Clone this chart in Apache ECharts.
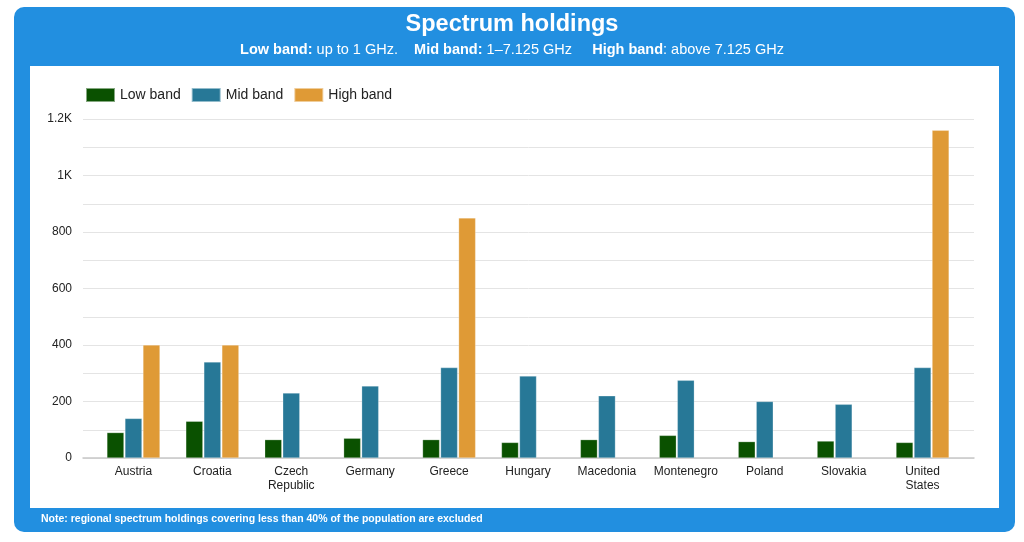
<!DOCTYPE html>
<html>
<head>
<meta charset="utf-8">
<script src="https://cdn.jsdelivr.net/npm/echarts@6/dist/echarts.min.js"></script>
<style>html,body{margin:0;padding:0;background:#fff;}#c{width:1024px;height:542px;}</style>
</head>
<body>
<div id="c"></div>
<script>
const categories = ['Austria','Croatia','Czech\nRepublic','Germany','Greece','Hungary','Macedonia','Montenegro','Poland','Slovakia','United\nStates'];
const lowBand  = [90, 130, 65, 70, 65, 55, 65, 80, 58, 60, 55];
const midBand  = [140, 340, 230, 255, 320, 290, 220, 275, 200, 190, 320];
const highBand = [400, 400, null, null, 850, null, null, null, null, null, 1160];
const yTickLabels = {0:'0',200:'200',400:'400',600:'600',800:'800',1000:'1K',1200:'1.2K'};

const FONT = 'Liberation Sans, Arial, sans-serif';
const BLUE = '#228fe0';
const chart = echarts.init(document.getElementById('c'));
const yCommon = {type:'value', min:0, max:1200, interval:100};
chart.setOption({
  animation:false,
  textStyle:{fontFamily:FONT},
  graphic:[
    {type:'rect', shape:{x:14,y:7,width:1001,height:525,r:10}, style:{fill:BLUE}, z:-10, silent:true},
    {type:'rect', shape:{x:30,y:66,width:969,height:442}, style:{fill:'#fff'}, z:-9, silent:true},
    {type:'text', left:41, top:514, style:{text:'Note: regional spectrum holdings covering less than 40% of the population are excluded', fill:'#fff', font:'bold 10.5px '+FONT}, z:5}
  ],
  title:{
    text:'Spectrum holdings',
    subtext:'{b|Low band:} up to 1 GHz.    {b|Mid band:} 1–7.125 GHz     {b|High band}: above 7.125 GHz',
    left:'center', top:8, itemGap:5,
    textStyle:{color:'#fff', fontSize:23.5, fontWeight:'bold', fontFamily:FONT},
    subtextStyle:{color:'#fff', fontSize:14.5, fontFamily:FONT, rich:{b:{fontWeight:'bold', fontSize:14.5, color:'#fff', fontFamily:FONT}}}
  },
  legend:{
    left:80, top:82, itemWidth:29, itemHeight:14, itemGap:10,
    icon:'rect',
    textStyle:{fontSize:14, color:'#222', fontFamily:FONT},
    data:['Low band','Mid band','High band']
  },
  grid:[
    {left:94, right:62, top:119, bottom:84},
    {left:83, right:50, top:119, bottom:84}
  ],
  xAxis:[
    {type:'category', gridIndex:0, data:categories,
     axisLine:{show:false}, axisTick:{show:false},
     axisLabel:{fontSize:12, color:'#222', lineHeight:14, margin:7, interval:0, fontFamily:FONT}},
    {type:'category', gridIndex:1, data:categories, show:true,
     axisLine:{show:true, lineStyle:{color:'#c8c8c8', width:1.5}}, axisTick:{show:false}, axisLabel:{show:false}}
  ],
  yAxis:[
    Object.assign({gridIndex:0, splitLine:{show:false}, axisLabel:{show:false}, axisLine:{show:false}, axisTick:{show:false}}, yCommon),
    Object.assign({gridIndex:1, splitLine:{show:true, lineStyle:{color:'#e4e4e4'}}, axisLine:{show:false}, axisTick:{show:false},
      axisLabel:{fontSize:12, color:'#222', margin:11, fontFamily:FONT, formatter:v => yTickLabels[v] !== undefined ? yTickLabels[v] : ''}}, yCommon)
  ],
  series:[
    {name:'Low band', type:'bar', data:lowBand, barWidth:17, barGap:'6%', itemStyle:{color:'#0a5100', borderColor:'rgba(255,255,255,0.5)', borderWidth:0.5}},
    {name:'Mid band', type:'bar', data:midBand, barWidth:17, barGap:'6%', itemStyle:{color:'#277897', borderColor:'rgba(255,255,255,0.5)', borderWidth:0.5}},
    {name:'High band', type:'bar', data:highBand, barWidth:17, barGap:'6%', itemStyle:{color:'#df9a36', borderColor:'rgba(255,255,255,0.5)', borderWidth:0.5}}
  ]
});
</script>
</body>
</html>
